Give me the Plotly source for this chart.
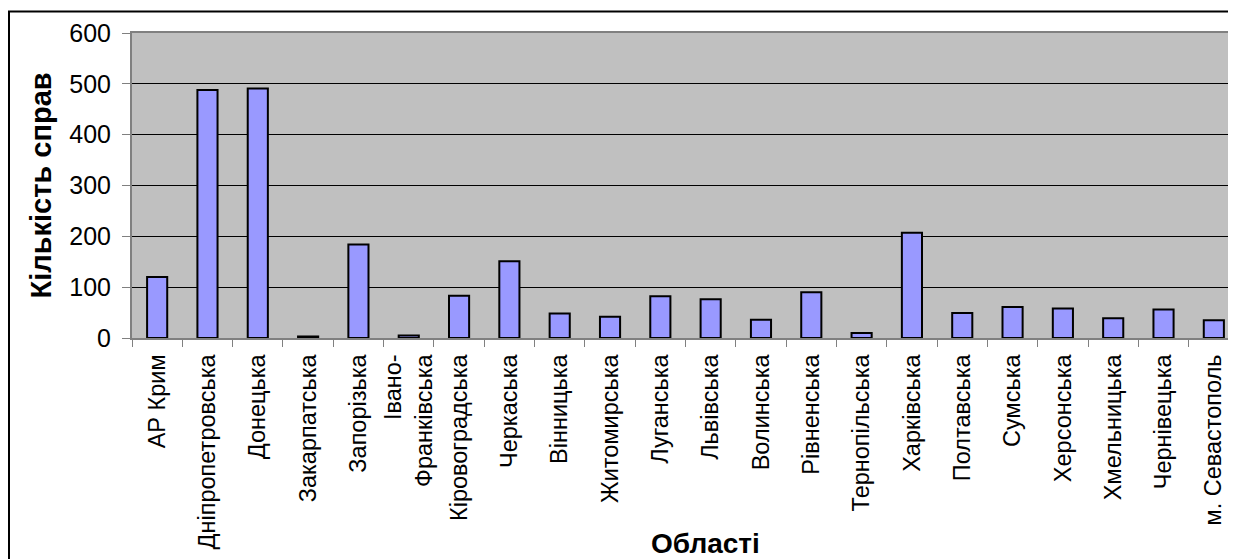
import plotly.graph_objects as go

regions = ["АР Крим", "Дніпропетровська", "Донецька", "Закарпатська", "Запорізька",
           "Івано-<br>Франківська", "Кіровоградська", "Черкаська", "Вінницька", "Житомирська",
           "Луганська", "Львівська", "Волинська", "Рівненська", "Тернопільська", "Харківська",
           "Полтавська", "Сумська", "Херсонська", "Хмельницька", "Чернівецька", "м. Севастополь"]
cases = [120, 488, 491, 3, 184, 5, 83, 151, 48, 42, 82, 76, 36, 90, 10, 207, 49, 61, 58, 39, 56, 35]
y_ticks = [0, 100, 200, 300, 400, 500, 600]

# page body adds an 8px offset; figure coords = screen coords - 8
W, H = 1236, 559
L, R, T, B = 124, 5, 25, 229
pw, ph = W - L - R, H - T - B

fig = go.Figure(go.Bar(
    x=regions, y=cases,
    marker=dict(color="#9999FF", line=dict(color="black", width=2)),
))

font = "Liberation Sans, Arial, sans-serif"

fig.update_layout(
    width=W, height=H,
    margin=dict(l=L, r=R, t=T, b=B, autoexpand=False),
    paper_bgcolor="white", plot_bgcolor="#C0C0C0",
    bargap=0.6, showlegend=False,
    font=dict(family=font, color="black"),
    xaxis=dict(type="category", tickangle=-90, tickfont=dict(size=23.5, family=font),
               showline=True, linecolor="#808080", linewidth=2, mirror=True,
               ticks="outside", tickson="boundaries", ticklen=7, tickcolor="#808080",
               tickwidth=1, showgrid=False, automargin=False, ticklabelstandoff=5),
    yaxis=dict(range=[0, 600], tickvals=y_ticks, tickfont=dict(size=25, family=font),
               showline=True, linecolor="#808080", linewidth=2,
               ticks="outside", ticklen=8, tickcolor="#808080", tickwidth=1,
               showgrid=True, gridcolor="black", gridwidth=1, zeroline=False,
               automargin=False, ticklabelstandoff=6),
    shapes=[dict(type="rect", xref="paper", yref="paper",
                 x0=(1 - L) / pw, x1=1.05, y0=-0.9, y1=(H - B - 3.5) / ph,
                 line=dict(color="black", width=2), fillcolor="rgba(0,0,0,0)")],
    annotations=[
        dict(text="<b>Кількість справ</b>", xref="paper", yref="paper",
             x=(32 - L) / pw, y=0.5, textangle=-90, showarrow=False,
             font=dict(size=29, family=font), xanchor="center", yanchor="middle"),
        dict(text="<b>Області</b>", xref="paper", yref="paper",
             x=(697 - L) / pw, y=-(535 - (H - B)) / ph, showarrow=False,
             font=dict(size=28, family=font), xanchor="center", yanchor="middle"),
    ],
)

fig.write_html("out.html")
